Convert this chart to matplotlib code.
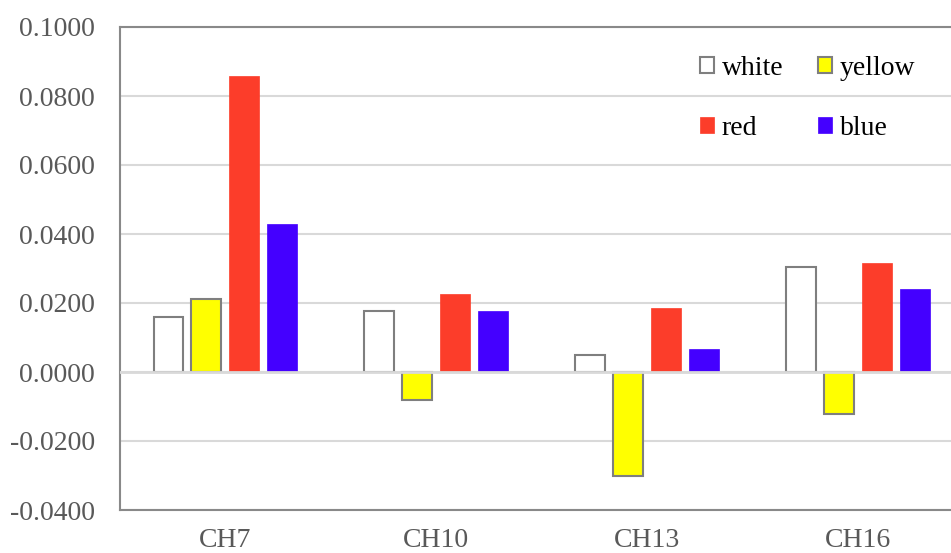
import matplotlib
matplotlib.use("Agg")
import matplotlib.pyplot as plt
import numpy as np

categories = ["CH7", "CH10", "CH13", "CH16"]
series_names = ["white", "yellow", "red", "blue"]
white = [0.0159, 0.0177, 0.0049, 0.0304]
yellow = [0.0212, -0.0081, -0.0301, -0.0122]
red = [0.0858, 0.0226, 0.0186, 0.0316]
blue = [0.0429, 0.0177, 0.0067, 0.0241]
yticks = [-0.04, -0.02, 0.0, 0.02, 0.04, 0.06, 0.08, 0.10]

values = [white, yellow, red, blue]
faces = ["#FFFFFF", "#FFFF00", "#FC3D2A", "#4400FF"]
edges = ["#7F7F7F", "#7F7F7F", "#FC3D2A", "#4400FF"]
lws = [1.5, 1.5, 0.5, 0.5]

plt.rcParams['font.family'] = ['Liberation Serif', 'DejaVu Serif']

fig = plt.figure(figsize=(9.51, 5.53), dpi=100)
ax = fig.add_axes([120/951, 1-510/553, 1-120/951, (510-27)/553])

x = np.arange(len(categories))
width = 0.142
step = 0.18
offsets = (np.arange(4) - 1.5) * step
handles = []
for i in range(4):
    b = ax.bar(x + offsets[i], values[i], width=width, color=faces[i],
               edgecolor=edges[i], linewidth=lws[i], label=series_names[i], zorder=3)
    handles.append(b)

ax.axhline(0, color="#D9D9D9", linewidth=2, zorder=4)

ax.set_xlim(-0.5, (951-225.5)/210.8)
ax.set_ylim(-0.04, 0.10)
ax.set_yticks(yticks)
ax.set_yticklabels([f"{v:.4f}" for v in yticks])
ax.set_xticks(x)
ax.set_xticklabels(categories)
ax.tick_params(axis='both', length=0, labelsize=20, labelcolor="#595959")
ax.tick_params(axis='y', pad=18)
ax.tick_params(axis='x', pad=13)
ax.yaxis.grid(True, color="#D9D9D9", linewidth=1.5, zorder=0)
ax.set_axisbelow(True)
for s in ["left", "bottom", "top"]:
    ax.spines[s].set_color("#898989")
    ax.spines[s].set_linewidth(1.5)
ax.spines["right"].set_visible(False)

order = [0, 2, 1, 3]
leg = ax.legend([handles[i] for i in order], [series_names[i] for i in order],
                ncol=2, loc="upper left", bbox_to_anchor=(700/951, 1-56/553),
                bbox_transform=fig.transFigure, frameon=False, fontsize=20,
                handlelength=0.52, handleheight=0.52, handletextpad=0.26,
                columnspacing=1.25, labelspacing=1.25, borderpad=0, borderaxespad=0)
for t in leg.get_texts():
    t.set_color("black")

fig.savefig("out.png", dpi=100)
